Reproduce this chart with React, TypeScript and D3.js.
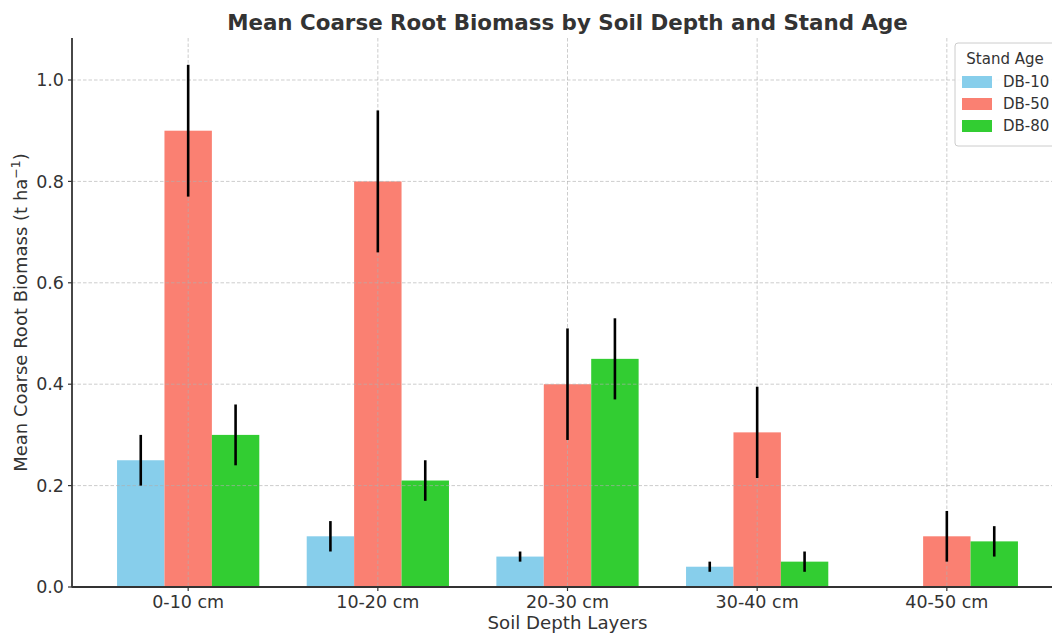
import React from "react";
import * as d3 from "d3";

const categories = ["0-10 cm", "10-20 cm", "20-30 cm", "30-40 cm", "40-50 cm"];
const seriesNames = ["DB-10", "DB-50", "DB-80"];
const seriesColors = ["#87CEEB", "#FA8072", "#32CD32"];
const db10 = [0.25, 0.10, 0.06, 0.04, 0];
const db10Err = [0.05, 0.03, 0.01, 0.01, 0];
const db50 = [0.90, 0.80, 0.40, 0.305, 0.10];
const db50Err = [0.13, 0.14, 0.11, 0.09, 0.05];
const db80 = [0.30, 0.21, 0.45, 0.05, 0.09];
const db80Err = [0.06, 0.04, 0.08, 0.02, 0.03];
const yTicks = [0, 0.2, 0.4, 0.6, 0.8, 1.0];

const values = [db10, db50, db80];
const errors = [db10Err, db50Err, db80Err];

const W = 1052, H = 634;
const left = 72, right = 1063, top = 38, bottom = 587;
const font = "'DejaVu Sans', sans-serif";

export default function App() {
  const x = d3.scaleLinear().domain([-0.6125, 4.6125]).range([left, right]);
  const y = d3.scaleLinear().domain([0, 1.0]).range([bottom, 80]);
  const bw = 0.25;
  return (
    <svg width={W} height={H} style={{ position: "absolute", left: 0, top: 0, background: "#fff" }}>
      <rect x={0} y={0} width={W} height={H} fill="#fff" />
      {values.map((vals, s) =>
        vals.map((v, i) => {
          const cx = i + (s - 1) * bw;
          return (
            <rect key={`b${s}-${i}`} x={x(cx - bw / 2)} y={y(v)} width={x(cx + bw / 2) - x(cx - bw / 2)} height={y(0) - y(v)} fill={seriesColors[s]} />
          );
        })
      )}
      {yTicks.filter(t => t > 0).map(t => (
        <line key={`gy${t}`} x1={left} x2={right} y1={y(t)} y2={y(t)} stroke="#b0b0b0" strokeOpacity={0.7} strokeWidth={0.9} strokeDasharray="3.5,2" />
      ))}
      {categories.map((c, i) => (
        <line key={`gx${i}`} x1={x(i)} x2={x(i)} y1={top} y2={bottom} stroke="#b0b0b0" strokeOpacity={0.7} strokeWidth={0.9} strokeDasharray="3.5,2" />
      ))}
      {values.map((vals, s) =>
        vals.map((v, i) => {
          const e = errors[s][i];
          if (!e) return null;
          const cx = x(i + (s - 1) * bw);
          return <line key={`e${s}-${i}`} x1={cx} x2={cx} y1={y(v - e)} y2={y(v + e)} stroke="#000" strokeWidth={2.6} />;
        })
      )}
      <line x1={left} x2={left} y1={top} y2={bottom + 0.5} stroke="#333" strokeWidth={1.8} />
      <line x1={left} x2={right} y1={bottom} y2={bottom} stroke="#333" strokeWidth={1.8} />
      {yTicks.map(t => (
        <g key={`yt${t}`}>
          <line x1={left - 4} x2={left} y1={y(t)} y2={y(t)} stroke="#333" strokeWidth={1.2} />
          <text x={left - 8} y={y(t)} dy="0.35em" textAnchor="end" fontFamily={font} fontSize={17.5} fill="#333">{t.toFixed(1)}</text>
        </g>
      ))}
      {categories.map((c, i) => (
        <g key={`xt${i}`}>
          <line x1={x(i)} x2={x(i)} y1={bottom} y2={bottom + 4} stroke="#333" strokeWidth={1.2} />
          <text x={x(i)} y={bottom + 21} textAnchor="middle" fontFamily={font} fontSize={17.5} fill="#333">{c}</text>
        </g>
      ))}
      <text x={(left + right) / 2} y={629} textAnchor="middle" fontFamily={font} fontSize={18.2} fill="#333">Soil Depth Layers</text>
      <text transform={`translate(27,${(top + bottom) / 2}) rotate(-90)`} textAnchor="middle" fontFamily={font} fontSize={18} fill="#333">
        Mean Coarse Root Biomass (t ha<tspan dy="-7" fontSize={12.5}>−1</tspan><tspan dy="7">)</tspan>
      </text>
      <text x={(left + right) / 2} y={30} textAnchor="middle" fontFamily={font} fontSize={21.4} fontWeight="bold" fill="#333">Mean Coarse Root Biomass by Soil Depth and Stand Age</text>
      <rect x={955} y={43} width={110} height={103} rx={3} fill="#fff" fillOpacity={0.85} stroke="#ccc" strokeWidth={1} />
      <text x={1005} y={64} textAnchor="middle" fontFamily={font} fontSize={15} fill="#333">Stand Age</text>
      {seriesNames.map((n, s) => (
        <g key={`lg${s}`}>
          <rect x={962} y={76 + s * 22} width={30} height={12} fill={seriesColors[s]} />
          <text x={1003} y={82 + s * 22} dy="0.35em" fontFamily={font} fontSize={15} fill="#333">{n}</text>
        </g>
      ))}
    </svg>
  );
}
